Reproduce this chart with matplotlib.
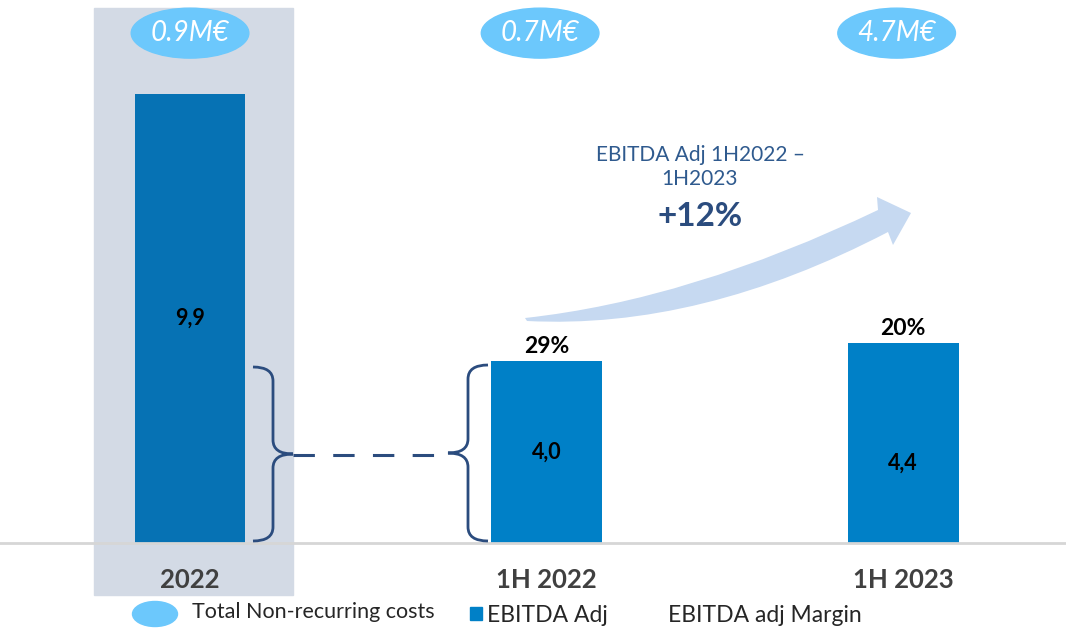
"""EBITDA Adj bar chart with non-recurring cost bubbles and growth arrow."""
import matplotlib.pyplot as plt
from matplotlib.patches import Ellipse, PathPatch, Rectangle
from matplotlib.path import Path

plt.rcParams["font.family"] = ["Lato", "DejaVu Sans"]

periods = ["2022", "1H 2022", "1H 2023"]
ebitda_adj = [9.9, 4.0, 4.4]
ebitda_labels = ["9,9", "4,0", "4,4"]
label_frac = [0.5, 0.5, 0.4]
margins = ["", "29%", "20%"]
non_recurring = ["0.9M€", "0.7M€", "4.7M€"]
growth_title = "EBITDA Adj 1H2022 –\n1H2023"
growth_value = "+12%"

BAR_COLORS = ["#0672B4", "#0080C7", "#0080C7"]
BUBBLE = "#6CC8FC"
NAVY = "#2B4C7E"

fig = plt.figure(figsize=(10.66, 6.3), dpi=100)
ax = fig.add_axes([0, 0, 1, 1])
ax.set_xlim(-0.533, 2.457)
ax.set_ylim(-1.916, 11.96)
ax.axis("off")

x = list(range(len(periods)))

# highlight band behind the full-year bar
ax.add_patch(Rectangle((-0.269, -1.145), 0.558, 12.93, color="#D3DAE5", zorder=0))

ax.bar(x, ebitda_adj, width=0.311, color=BAR_COLORS, zorder=2)
ax.axhline(0, color="#D6D6D6", lw=2, zorder=3)

for i, v in enumerate(ebitda_adj):
    ax.text(i, v * label_frac[i], ebitda_labels[i], ha="center", va="center",
            fontsize=15.5, fontweight="bold", color="black", zorder=4)
    if margins[i]:
        ax.text(i, v + 0.32, margins[i], ha="center", va="center",
                fontsize=16.5, fontweight="bold", color="black", zorder=4)
    ax.text(i, -0.82, periods[i], ha="center", va="center",
            fontsize=18.5, fontweight="bold", color="#404040", zorder=4)
    cx = i - (0.018 if i else 0)
    ax.add_patch(Ellipse((cx, 11.23), 0.33, 1.10, color=BUBBLE, zorder=4))
    ax.text(cx, 11.23, non_recurring[i], ha="center", va="center",
            fontsize=20, style="italic", color="white", zorder=5)

# decoration layer in pixel coordinates
deco = fig.add_axes([0, 0, 1, 1])
deco.set_xlim(0, 1066)
deco.set_ylim(630, 0)
deco.axis("off")
deco.patch.set_alpha(0)


def brace(x0, top, bottom, w, facing):
    """Curly brace; facing=+1 tip to the right, -1 tip to the left."""
    mid = (top + bottom) / 2
    xm = x0 + facing * w / 2
    xt = x0 + facing * w
    r = 14
    verts = [
        (x0, top), (xm, top), (xm, top + r),
        (xm, mid - r),
        (xm, mid), (xt, mid),
        (xm, mid), (xm, mid + r),
        (xm, bottom - r),
        (xm, bottom), (x0, bottom),
    ]
    codes = [Path.MOVETO, Path.CURVE3, Path.CURVE3, Path.LINETO,
             Path.CURVE3, Path.CURVE3, Path.CURVE3, Path.CURVE3,
             Path.LINETO, Path.CURVE3, Path.CURVE3]
    deco.add_patch(PathPatch(Path(verts, codes), fill=False, ec=NAVY, lw=2, zorder=5))


brace(253, 367, 541, 40, +1)
brace(488, 365, 541, 40, -1)
deco.plot([293, 448], [455, 455], color=NAVY, lw=2.2, dashes=(7, 6), zorder=5)

# growth arrow
arrow = [
    (525, 318), (690, 300), (878, 210),
    (877, 197), (911, 213), (893, 245), (888, 232),
    (700, 330), (527, 321),
    (525, 318),
]
codes = [Path.MOVETO, Path.CURVE3, Path.CURVE3,
         Path.LINETO, Path.LINETO, Path.LINETO, Path.LINETO,
         Path.CURVE3, Path.CURVE3, Path.CLOSEPOLY]
deco.add_patch(PathPatch(Path(arrow, codes), fc="#C6D9F1", ec="none", zorder=1))

deco.text(700, 167, growth_title, ha="center", va="center", fontsize=15,
          color="#2F5A8E", linespacing=1.3)
deco.text(700, 217, growth_value, ha="center", va="center", fontsize=24,
          fontweight="bold", color=NAVY)

# legend
deco.add_patch(Ellipse((155, 614), 45, 25, color=BUBBLE))
deco.text(192, 612, "Total Non-recurring costs", ha="left", va="center",
          fontsize=15.5, color="#262626")
deco.add_patch(Rectangle((470, 607), 12, 13, color="#0080C7"))
deco.text(487, 615, "EBITDA Adj", ha="left", va="center", fontsize=16.5, color="#262626")
deco.text(668, 615, "EBITDA adj Margin", ha="left", va="center", fontsize=16.5, color="#262626")

fig.savefig("out.png", dpi=100)
